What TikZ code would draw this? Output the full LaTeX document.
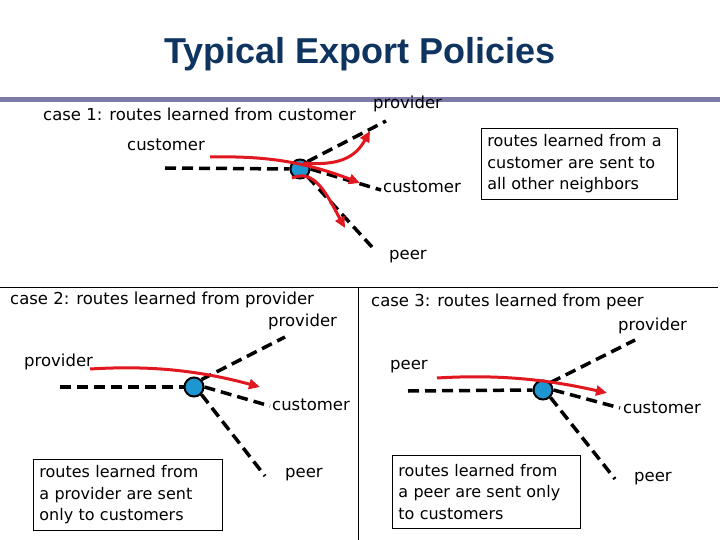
\documentclass[tikz,border=0pt]{standalone}
\usepackage{fontspec}
\setmainfont{DejaVu Sans}
\newfontfamily\titlefont{Liberation Sans}
\usetikzlibrary{arrows.meta}
\definecolor{titleblue}{RGB}{16,52,96}
\definecolor{barcol}{RGB}{123,123,166}
\definecolor{routered}{RGB}{226,24,32}
\definecolor{asblue}{RGB}{30,150,210}
\tikzset{
  lbl/.style={font=\fontsize{16.5}{19}\selectfont, inner sep=0pt, anchor=west},
  link/.style={draw=black, line width=3.5pt, dash pattern=on 11pt off 6pt},
  route/.style={draw=routered, line width=3pt, -{Triangle[length=11pt,width=10pt]}},
  asnode/.style={circle, draw=black, line width=2pt, fill=asblue, minimum size=19pt, inner sep=0pt},
  infobox/.style={draw=black, line width=0.8pt, anchor=north west, align=left,
     font=\fontsize{16}{21.5}\selectfont, inner xsep=6pt, inner ysep=0pt},
  frame/.style={draw=black, line width=1pt}
}
\begin{document}
\begin{tikzpicture}[x=1pt,y=-1pt]
\useasboundingbox (0,0) rectangle (720,540);
\fill[white] (0,0) rectangle (720,540);
% title
\node[font=\titlefont\bfseries\fontsize{36}{40}\selectfont, text=titleblue] (title) at (360,54) {Typical Export Policies};
\fill[barcol] (0,97) rectangle (720,102);

% ---------- case 1 ----------
\node[lbl] (c1t) at (43,114) {case 1: routes learned from customer};
\node[lbl] (c1prov) at (373,104) {provider};
\node[lbl] (c1custL) at (127,145) {customer};
\node[lbl] (c1custR) at (383,187) {customer};
\node[lbl] (c1peer) at (389,257) {peer};
\node[asnode] (n1) at (300,169) {};
\coordinate (c1l) at (165,168);
\coordinate (c1p) at (386,121);
\coordinate (c1c) at (381,190);
\coordinate (c1e) at (372,247);
\draw[link] (c1l) -- (n1.west);
\draw[link] (n1.north east) -- (c1p);
\draw[link] (n1.east) -- (c1c);
\draw[link] (n1.south east) -- (c1e);
\draw[route] (210,157) .. controls (260,156) and (300,160) .. (360,183);
\draw[route] (303,163) .. controls (338,166) and (355,158) .. (370,131);
\draw[route] (292,178) .. controls (315,168) and (327,195) .. (345,228);
\node[infobox, minimum width=196pt, minimum height=71pt, text width=184pt] (b1) at (481,128)
  {routes learned from a\\customer are sent to\\all other neighbors};

% frames
\draw[frame] (0,287) -- (718,287);
\draw[frame] (358,287) -- (358,540);

% ---------- case 2 ----------
\node[lbl] (c2t) at (10,300) {case 2: routes learned from provider};
\node[lbl] (c2prov) at (268,322) {provider};
\node[lbl] (c2provL) at (24,362) {provider};
\node[lbl] (c2cust) at (272,405) {customer};
\node[lbl] (c2peer) at (285,475) {peer};
\node[asnode] (n2) at (194,387) {};
\coordinate (c2l) at (60,387);
\coordinate (c2p) at (285,337);
\coordinate (c2c) at (270,406);
\coordinate (c2e) at (265,476);
\draw[link] (c2l) -- (n2.west);
\draw[link] (n2.north east) -- (c2p);
\draw[link] (n2.east) -- (c2c);
\draw[link] (n2.south east) -- (c2e);
\draw[route] (90,369) .. controls (140,366) and (190,368) .. (260,387);
\node[infobox, minimum width=189pt, minimum height=71pt, text width=177pt] (b2) at (33,459)
  {routes learned from\\a provider are sent\\only to customers};

% ---------- case 3 ----------
\node[lbl] (c3t) at (371,302) {case 3: routes learned from peer};
\node[lbl] (c3prov) at (618,326) {provider};
\node[lbl] (c3peerL) at (390,367) {peer};
\node[lbl] (c3cust) at (623,408) {customer};
\node[lbl] (c3peer) at (634,479) {peer};
\node[asnode] (n3) at (543,390) {};
\coordinate (c3l) at (408,391);
\coordinate (c3p) at (635,340);
\coordinate (c3c) at (620,408);
\coordinate (c3e) at (615,479);
\draw[link] (c3l) -- (n3.west);
\draw[link] (n3.north east) -- (c3p);
\draw[link] (n3.east) -- (c3c);
\draw[link] (n3.south east) -- (c3e);
\draw[route] (437,378) .. controls (487,375) and (537,377) .. (607,393);
\node[infobox, minimum width=188pt, minimum height=73pt, text width=176pt] (b3) at (392,455)
  {routes learned from\\a peer are sent only\\to customers};
\end{tikzpicture}
\end{document}
